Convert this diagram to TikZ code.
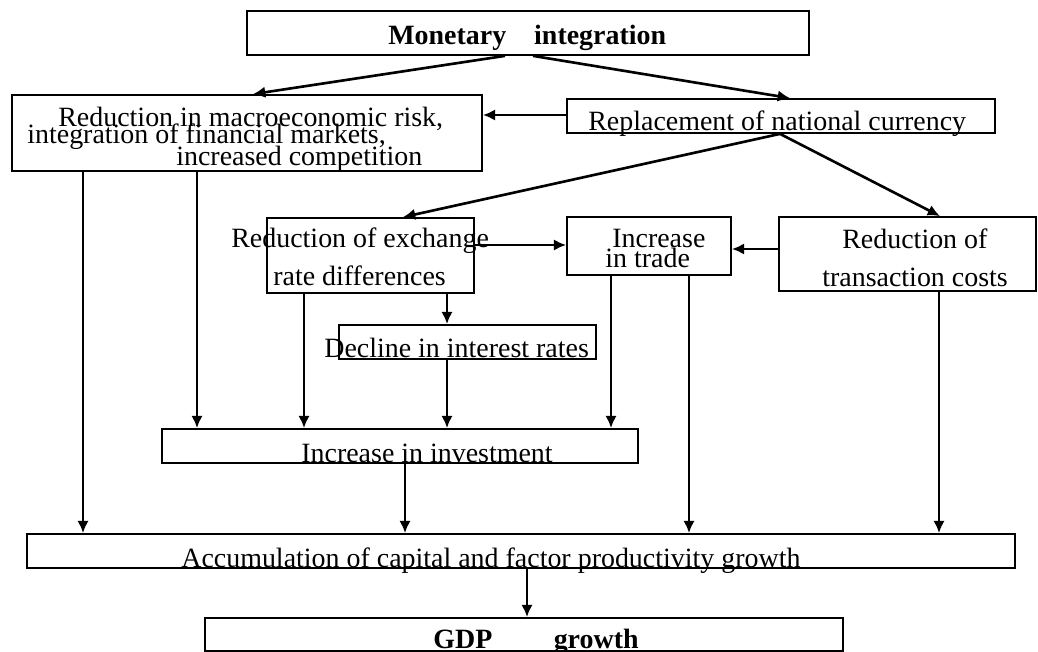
\documentclass[tikz,border=0pt]{standalone}
\usepackage{fontspec}
\setmainfont{Liberation Serif}
\usetikzlibrary{arrows.meta,fit}
\tikzset{
    box/.style={draw, line width=1pt, inner sep=0pt},
    txt/.style={anchor=base west, inner sep=0pt, font=\fontsize{15.9}{17}\selectfont},
    arr/.style={-{Latex[length=7pt,width=6.5pt]}, line width=1.5pt}
}
\begin{document}
\begin{tikzpicture}[x=0.02cm,y=-0.02cm]
        \useasboundingbox (0,0) rectangle (1038,652);
        % boxes
        \node[box, fit={(247,11) (809,55)}] (mon) {};
        \node[box, fit={(12,95) (482,171)}] (risk) {};
        \node[box, fit={(567,99) (995,133)}] (repl) {};
        \node[box, fit={(267,218) (474,293)}] (exch) {};
        \node[box, fit={(567,217) (731,275)}] (trade) {};
        \node[box, fit={(779,217) (1036,291)}] (trans) {};
        \node[box, fit={(339,325) (596,359)}] (decl) {};
        \node[box, fit={(162,429) (638,463)}] (inv) {};
        \node[box, fit={(27,534) (1015,568)}] (acc) {};
        \node[box, fit={(205,618) (843,651)}] (gdp) {};
        % texts
        \node[txt, font=\fontsize{15.9}{17}\selectfont\bfseries] (tmon) at (388,45) {Monetary\quad integration};
        \node[txt] (trisk1) at (58,127) {Reduction in macroeconomic risk,};
        \node[txt] (trisk2) at (27,144) {integration of financial markets,};
        \node[txt] (trisk3) at (176,165) {increased competition};
        \node[txt] (trepl) at (588,131) {Replacement of national currency};
        \node[txt] (texch1) at (231,247) {Reduction of exchange};
        \node[txt] (texch2) at (273,285) {rate differences};
        \node[txt] (ttrade1) at (612,247) {Increase};
        \node[txt] (ttrade2) at (605,267) {in trade};
        \node[txt] (ttrans1) at (842,248) {Reduction of};
        \node[txt] (ttrans2) at (822,286) {transaction costs};
        \node[txt] (tdecl) at (324,357) {Decline in interest rates};
        \node[txt] (tinv) at (301,462) {Increase in investment};
        \node[txt] (tacc) at (181,567) {Accumulation of capital and factor productivity growth};
        \node[txt, font=\fontsize{15.9}{17}\selectfont\bfseries] (tgdp) at (433,648) {GDP\hspace{2.2em}growth};
        % slanted arrows
        \draw[arr] (505,0 |- mon.south) -- (253,0 |- risk.north);
        \draw[arr] (533,0 |- mon.south) -- (790,0 |- repl.north);
        \draw[arr] (780,0 |- repl.south) -- (403,0 |- exch.north);
        \draw[arr] (780,0 |- repl.south) -- (940,0 |- trans.north);
        % horizontal arrows
        \draw[arr] (repl.west |- 0,115) -- (risk.east |- 0,115);
        \draw[arr] (exch.east |- 0,245) -- (trade.west |- 0,245);
        \draw[arr] (trans.west |- 0,249) -- (trade.east |- 0,249);
        % vertical arrows
        \foreach \x/\a/\b in {83/risk/acc, 197/risk/inv, 304/exch/inv, 447/exch/decl,
                447/decl/inv, 611/trade/inv, 689/trade/acc, 939/trans/acc,
                405/inv/acc, 527/acc/gdp} {
            \draw[arr] (\x,0 |- \a.south) -- (\x,0 |- \b.north);
        }
\end{tikzpicture}
\end{document}
